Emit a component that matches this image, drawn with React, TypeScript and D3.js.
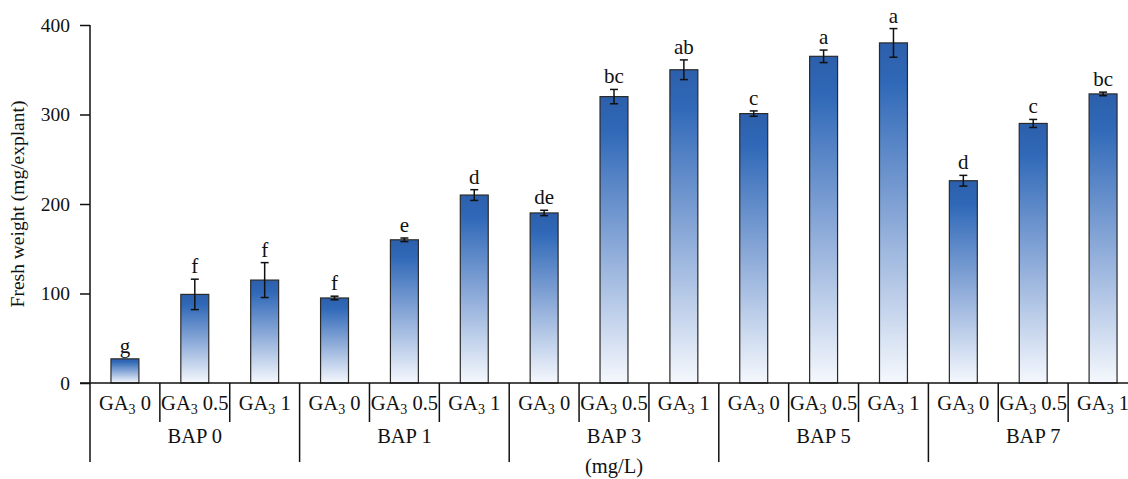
import { useEffect, useRef } from "react";
import * as d3 from "d3";

const groups = ["BAP 0", "BAP 1", "BAP 3", "BAP 5", "BAP 7"];
const gaLevels = ["0", "0.5", "1"];
const means = [27, 99, 115, 95, 160, 210, 190, 320, 350, 301, 365, 380, 226, 290, 323];
const errors = [0, 17, 19.5, 2, 2, 6, 3, 8, 11, 3, 7, 16, 6, 4.5, 2];
const letters = ["g", "f", "f", "f", "e", "d", "de", "bc", "ab", "c", "a", "a", "d", "c", "bc"];
const yTicks = [0, 100, 200, 300, 400];

const App = () => {
  const svgRef = useRef<SVGSVGElement>(null);
  const width = 1128;
  const height = 479;
  const margin = { top: 25, right: -10, bottom: 96, left: 90 };

  useEffect(() => {
    const svg = d3.select(svgRef.current);
    svg.selectAll("*").remove();
    const font = "'Liberation Serif', 'Times New Roman', serif";

    const data = means.map((v, i) => ({
      key: `${i}`,
      group: groups[Math.floor(i / 3)],
      ga: gaLevels[i % 3],
      value: v,
      err: errors[i],
      letter: letters[i],
    }));

    const x = d3
      .scaleBand()
      .domain(data.map((d) => d.key))
      .range([margin.left, width - margin.right])
      .paddingInner(0)
      .paddingOuter(0);
    const y = d3
      .scaleLinear()
      .domain([0, 400])
      .range([height - margin.bottom, margin.top]);
    const y0 = y(0);
    const bw = x.bandwidth();
    const barW = bw * 0.4;

    const defs = svg.append("defs");
    const grad = defs
      .append("linearGradient")
      .attr("id", "barGrad")
      .attr("x1", 0)
      .attr("y1", 0)
      .attr("x2", 0)
      .attr("y2", 1);
    grad.append("stop").attr("offset", "0%").attr("stop-color", "#2c5fab");
    grad.append("stop").attr("offset", "12%").attr("stop-color", "#3069b8");
    grad.append("stop").attr("offset", "50%").attr("stop-color", "#85a5d6");
    grad.append("stop").attr("offset", "100%").attr("stop-color", "#f5f8fd");

    // bars
    svg
      .selectAll(".bar")
      .data(data)
      .enter()
      .append("rect")
      .attr("x", (d) => x(d.key)! + (bw - barW) / 2)
      .attr("y", (d) => y(d.value))
      .attr("width", barW)
      .attr("height", (d) => y0 - y(d.value))
      .attr("fill", "url(#barGrad)")
      .attr("stroke", "#2a2a2a")
      .attr("stroke-width", 1.2);

    // error bars
    const eb = svg
      .selectAll(".err")
      .data(data.filter((d) => d.err > 0))
      .enter()
      .append("g")
      .attr("stroke", "#111")
      .attr("stroke-width", 1.5);
    eb.append("line")
      .attr("x1", (d) => x(d.key)! + bw / 2)
      .attr("x2", (d) => x(d.key)! + bw / 2)
      .attr("y1", (d) => y(d.value + d.err))
      .attr("y2", (d) => y(d.value - d.err));
    [1, -1].forEach((s) => {
      eb.append("line")
        .attr("x1", (d) => x(d.key)! + bw / 2 - 4)
        .attr("x2", (d) => x(d.key)! + bw / 2 + 4)
        .attr("y1", (d) => y(d.value + s * d.err))
        .attr("y2", (d) => y(d.value + s * d.err));
    });

    // significance letters
    svg
      .selectAll(".letter")
      .data(data)
      .enter()
      .append("text")
      .attr("x", (d) => x(d.key)! + bw / 2)
      .attr("y", (d) => y(d.value + d.err) - 6)
      .attr("text-anchor", "middle")
      .attr("font-family", font)
      .attr("font-size", 21)
      .attr("fill", "#111")
      .text((d) => d.letter);

    // y axis
    const yAxis = svg
      .append("g")
      .attr("transform", `translate(${margin.left},0)`)
      .call(d3.axisLeft(y).tickValues(yTicks).tickSize(10).tickSizeOuter(0));
    yAxis.select(".domain").remove();
    yAxis.selectAll("line").attr("stroke", "#111").attr("stroke-width", 1.5);
    yAxis
      .selectAll("text")
      .attr("font-family", font)
      .attr("font-size", 19.5)
      .attr("fill", "#111")
      .attr("x", -20);
    svg
      .append("line")
      .attr("x1", margin.left)
      .attr("x2", margin.left)
      .attr("y1", margin.top)
      .attr("y2", 462)
      .attr("stroke", "#111")
      .attr("stroke-width", 1.5);

    // x axis baseline
    svg
      .append("line")
      .attr("x1", margin.left - 10)
      .attr("x2", width)
      .attr("y1", y0)
      .attr("y2", y0)
      .attr("stroke", "#111")
      .attr("stroke-width", 1.5);

    // category separators
    data.forEach((d, i) => {
      if (i === 0) return;
      const xb = x(d.key)!;
      const isGroup = i % 3 === 0;
      svg
        .append("line")
        .attr("x1", xb)
        .attr("x2", xb)
        .attr("y1", y0)
        .attr("y2", isGroup ? 462 : 422)
        .attr("stroke", "#111")
        .attr("stroke-width", 1.5);
    });

    // category labels
    const lab = svg
      .selectAll(".ga")
      .data(data)
      .enter()
      .append("text")
      .attr("x", (d) => x(d.key)! + bw / 2)
      .attr("y", 410)
      .attr("text-anchor", "middle")
      .attr("font-family", font)
      .attr("font-size", 20.5)
      .attr("fill", "#111");
    lab.append("tspan").text("GA");
    lab.append("tspan").attr("font-size", 14).attr("dy", 4).text("3");
    lab.append("tspan").attr("dy", -4).text((d) => `\u00a0${d.ga}`);

    // group labels
    groups.forEach((g, gi) => {
      const xs = x(`${gi * 3}`)!;
      svg
        .append("text")
        .attr("x", xs + bw * 1.5)
        .attr("y", 443)
        .attr("text-anchor", "middle")
        .attr("font-family", font)
        .attr("font-size", 20.5)
        .attr("fill", "#111")
        .text(g);
    });

    svg
      .append("text")
      .attr("x", x("7")! + bw / 2)
      .attr("y", 473)
      .attr("text-anchor", "middle")
      .attr("font-family", font)
      .attr("font-size", 20.5)
      .attr("fill", "#111")
      .text("(mg/L)");

    // y axis title
    svg
      .append("text")
      .attr("transform", `translate(24,${(margin.top + y0) / 2}) rotate(-90)`)
      .attr("text-anchor", "middle")
      .attr("font-family", font)
      .attr("font-size", 19.5)
      .attr("fill", "#111")
      .text("Fresh weight (mg/explant)");
  }, []);

  return (
    <svg
      ref={svgRef}
      width={width}
      height={height}
      style={{ position: "absolute", left: 0, top: 0, background: "#fff" }}
    />
  );
};

export default App;
